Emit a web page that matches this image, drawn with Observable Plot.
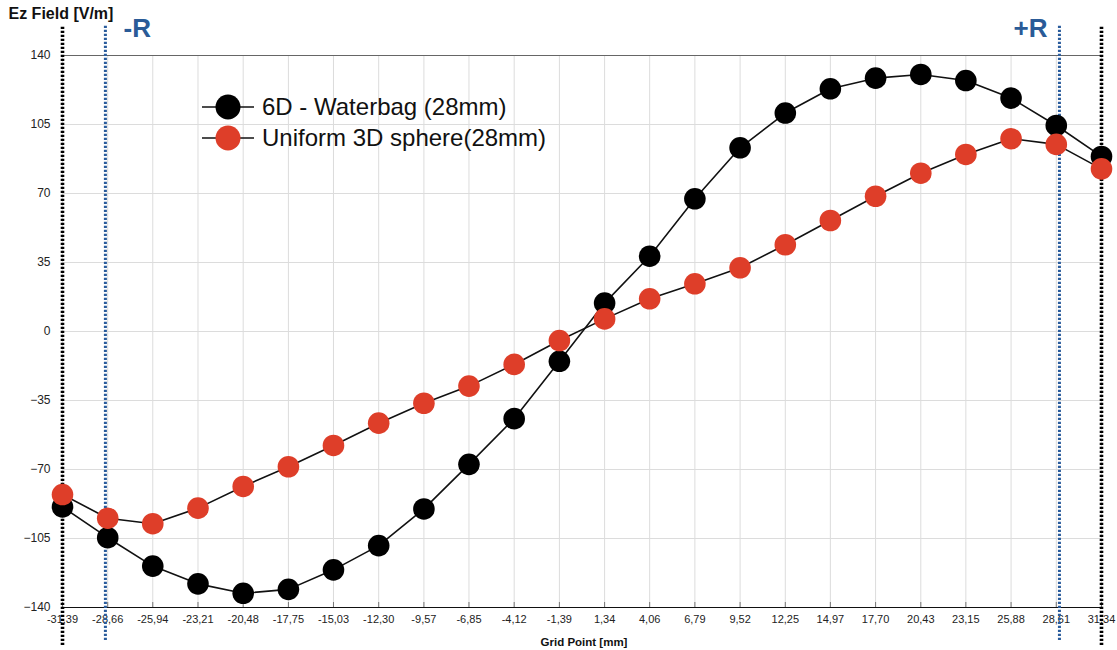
<!DOCTYPE html>
<html><head><meta charset="utf-8">
<script src="https://cdn.jsdelivr.net/npm/d3@7"></script>
<script src="https://cdn.jsdelivr.net/npm/@observablehq/plot@0.6"></script>
<style>
body{margin:0;background:#fff;font-family:"Liberation Sans",Arial,Helvetica,sans-serif}
#wrap{position:relative;width:1117px;height:650px;overflow:hidden}
.legend{position:absolute;left:202px;top:91px;font-size:24px;color:#111}
.row{display:flex;align-items:center;height:31px}
.row svg{margin-right:8px}
</style></head><body><div id="wrap"></div>
<script>
const gridPoints = [-31.39,-28.66,-25.94,-23.21,-20.48,-17.75,-15.03,-12.30,-9.57,-6.85,-4.12,-1.39,1.34,4.06,6.79,9.52,12.25,14.97,17.70,20.43,23.15,25.88,28.61,31.34];
const waterbag = [-89.0,-104.6,-119.0,-128.0,-132.8,-130.8,-120.9,-108.6,-90.0,-67.4,-44.2,-15.1,14.4,38.2,67.3,93.2,110.8,123.1,128.5,130.4,127.3,118.4,104.5,88.8];
const uniform = [-82.7,-94.7,-97.5,-89.6,-78.6,-68.6,-57.8,-46.5,-36.4,-27.7,-16.7,-4.6,6.4,16.6,24.2,32.3,44.0,56.3,68.6,80.3,89.8,97.8,94.9,82.5];
const seriesNames = ["6D - Waterbag (28mm)", "Uniform 3D sphere(28mm)"];
const seriesColors = ["#000000", "#de3e29"];
const yTicks = [-140,-105,-70,-35,0,35,70,105,140];
const edgeLines = [-31.39, 31.34];
const radiusLines = [-28.8, 28.8];
const yLabel = "Ez Field [V/m]";
const xLabel = "Grid Point [mm]";
const rLabels = ["-R", "+R"];

const seriesValues = [waterbag, uniform];
const table = seriesNames.flatMap((name, i) =>
  gridPoints.map((x, j) => ({series: name, x, y: seriesValues[i][j], color: seriesColors[i]})));

const fmt = d => d.toFixed(2).replace(".", ",");
const font = "Liberation Sans, Arial, Helvetica, sans-serif";

const marks = [
  Plot.gridX(gridPoints, {stroke: "#dcdcdc", strokeOpacity: 1}),
  Plot.gridY(yTicks, {stroke: "#dcdcdc", strokeOpacity: 1}),
  Plot.ruleY([140], {stroke: "#666", strokeWidth: 1.2}),
  Plot.ruleY([-140], {stroke: "#111", strokeWidth: 1.2}),
  Plot.axisX({ticks: gridPoints, tickSize: -5, text: null, stroke: "#777", label: null}),
  Plot.axisX({ticks: gridPoints, tickSize: 0, tickPadding: 8, tickFormat: fmt, fontSize: 11, fill: "#222", label: null}),
  Plot.axisY({ticks: yTicks, tickSize: 0, tickPadding: 12, fontSize: 12, fill: "#222", label: null}),
  Plot.ruleX(radiusLines, {y1: -156.7, y2: 155.7, stroke: "#2a5c9c", strokeWidth: 3, strokeDasharray: "2.2,1.8"}),
  Plot.ruleX(edgeLines, {y1: -159.3, y2: 154.7, stroke: "#000", strokeWidth: 3.6, strokeDasharray: "2.4,1.6"})
];
seriesNames.forEach((name, i) => {
  const d = table.filter(r => r.series === name);
  marks.push(Plot.line(d, {x: "x", y: "y", stroke: "#111", strokeWidth: 1.6}));
  marks.push(Plot.dot(d, {x: "x", y: "y", r: 10.8, fill: seriesColors[i], stroke: null}));
});
marks.push(
  Plot.text([yLabel], {text: d => d, frameAnchor: "top-left", dx: -54, dy: -42, textAnchor: "start", lineAnchor: "middle", fontWeight: "bold", fontSize: 16, fill: "#111"}),
  Plot.text([rLabels[0]], {text: d => d, frameAnchor: "top-left", dx: 61, dy: -27, textAnchor: "start", lineAnchor: "middle", fontWeight: "bold", fontSize: 26, fill: "#2a5b97"}),
  Plot.text([rLabels[1]], {text: d => d, frameAnchor: "top-right", dx: -54, dy: -27, textAnchor: "end", lineAnchor: "middle", fontWeight: "bold", fontSize: 26, fill: "#2a5b97"}),
  Plot.text([xLabel], {text: d => d, frameAnchor: "bottom", dx: 2, dy: 35, textAnchor: "middle", lineAnchor: "middle", fontWeight: "bold", fontSize: 11.5, fill: "#111"})
);

const plot = Plot.plot({
  width: 1117, height: 650,
  marginLeft: 62, marginRight: 16, marginTop: 55, marginBottom: 43,
  style: {fontFamily: font, background: "#fff", overflow: "visible"},
  x: {domain: [-31.39, 31.34]},
  y: {domain: [-140, 140]},
  marks
});
const wrap = document.getElementById("wrap");
wrap.appendChild(plot);

const legend = document.createElement("div");
legend.className = "legend";
seriesNames.forEach((name, i) => {
  const row = document.createElement("div");
  row.className = "row";
  row.innerHTML = `<svg width="52" height="28"><line x1="0" y1="14" x2="52" y2="14" stroke="#111" stroke-width="1.6"/><circle cx="26" cy="14" r="12.5" fill="${seriesColors[i]}"/></svg><span>${name}</span>`;
  legend.appendChild(row);
});
wrap.appendChild(legend);
</script></body></html>
